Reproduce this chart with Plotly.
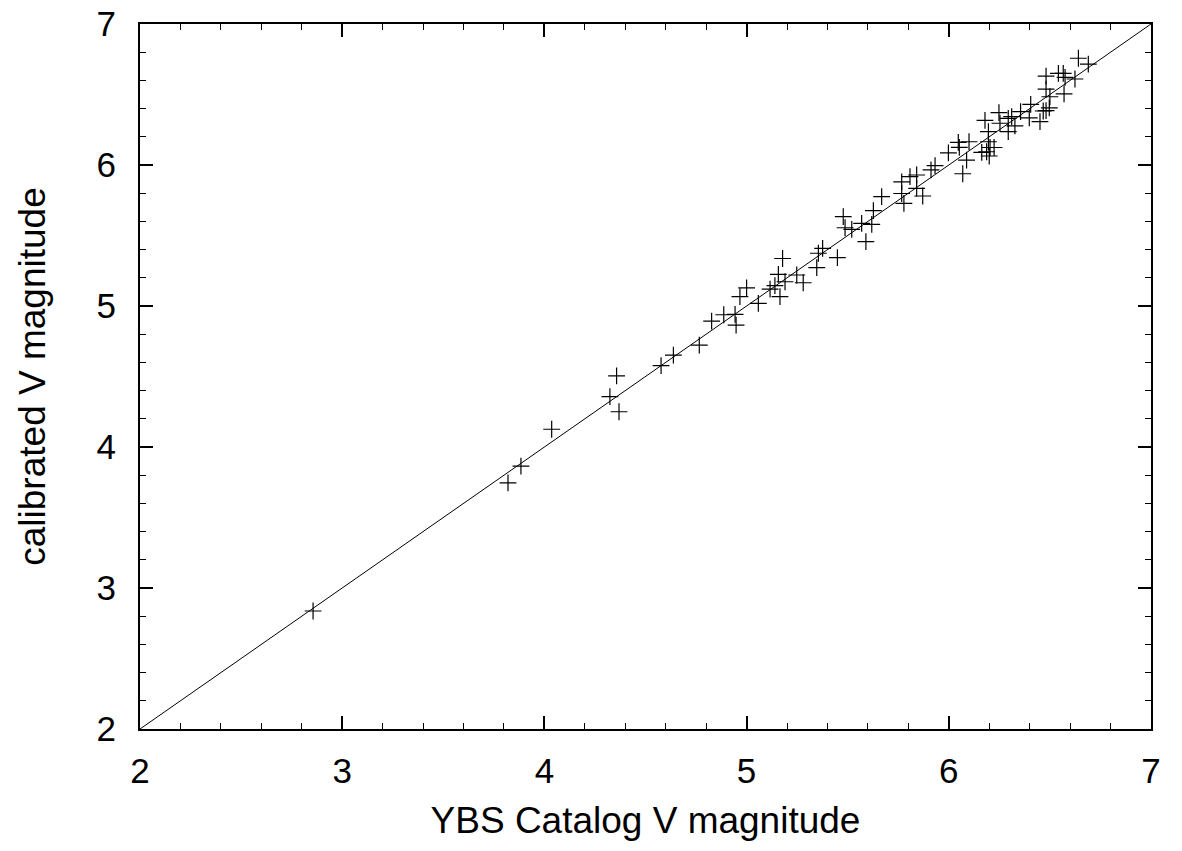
import plotly.graph_objects as go

# Measured points (YBS catalog V vs calibrated V)
ybs_v = [2.856, 3.820, 3.884, 4.036, 4.324, 4.357, 4.369, 4.577, 4.638, 4.766,
         4.827, 4.887, 4.943, 4.948, 4.967, 5.000, 5.058, 5.116, 5.140, 5.157,
         5.165, 5.178, 5.190, 5.248, 5.280, 5.347, 5.355, 5.376, 5.449, 5.478,
         5.487, 5.520, 5.569, 5.590, 5.619, 5.627, 5.668, 5.767, 5.767, 5.778,
         5.808, 5.841, 5.841, 5.871, 5.912, 5.932, 5.998, 6.047, 6.052, 6.100,
         6.088, 6.069, 6.179, 6.196, 6.196, 6.163, 6.187, 6.204, 6.224, 6.200,
         6.248, 6.253, 6.294, 6.311, 6.327, 6.294, 6.355, 6.405, 6.398, 6.451,
         6.467, 6.481, 6.497, 6.500, 6.481, 6.481, 6.542, 6.566, 6.575, 6.624,
         6.570, 6.641, 6.690]
cal_v = [2.837, 3.745, 3.865, 4.126, 4.357, 4.504, 4.250, 4.577, 4.652, 4.723,
         4.893, 4.938, 4.940, 4.865, 5.066, 5.128, 5.019, 5.120, 5.144, 5.224,
         5.066, 5.337, 5.172, 5.220, 5.165, 5.272, 5.374, 5.409, 5.343, 5.634,
         5.555, 5.543, 5.586, 5.456, 5.579, 5.676, 5.775, 5.881, 5.798, 5.728,
         5.917, 5.929, 5.834, 5.780, 5.965, 5.995, 6.086, 6.160, 6.125, 6.165,
         6.035, 5.938, 6.316, 6.236, 6.165, 6.089, 6.094, 6.124, 6.124, 6.064,
         6.371, 6.296, 6.331, 6.343, 6.277, 6.236, 6.378, 6.430, 6.334, 6.308,
         6.383, 6.386, 6.405, 6.484, 6.538, 6.631, 6.650, 6.650, 6.621, 6.610,
         6.504, 6.757, 6.716]

# Reference line y = x
line_x = [2, 7]
line_y = [2, 7]

x_ticks = [2, 3, 4, 5, 6, 7]
y_ticks = [2, 3, 4, 5, 6, 7]

FONT = "Liberation Sans, Arial, Helvetica, sans-serif"

fig = go.Figure()
fig.add_trace(go.Scatter(x=line_x, y=line_y, mode="lines",
                         line=dict(color="black", width=1), showlegend=False,
                         hoverinfo="skip"))
fig.add_trace(go.Scatter(x=ybs_v, y=cal_v, mode="markers",
                         marker=dict(symbol="cross-thin", size=12,
                                     line=dict(color="black", width=1.2),
                                     color="black"),
                         showlegend=False))

axis_common = dict(
    showgrid=False, zeroline=False,
    showline=True, linecolor="black", linewidth=2, mirror="ticks",
    ticks="inside", ticklen=13, tickwidth=1.5, tickcolor="black",
    tickfont=dict(family=FONT, size=35, color="black"),
    minor=dict(ticks="inside", ticklen=6, tickwidth=1.2, tickcolor="black", dtick=0.2),
    ticklabeloverflow="allow",
    automargin=False,
)

fig.update_xaxes(range=[2, 7], tickvals=x_ticks, ticktext=[str(v) for v in x_ticks],
                 ticklabelstandoff=10,
                 title=dict(text="YBS Catalog V magnitude",
                            font=dict(family=FONT, size=37, color="black"),
                            standoff=18),
                 **axis_common)
fig.update_yaxes(range=[2, 7], tickvals=y_ticks, ticktext=[str(v) for v in y_ticks],
                 ticklabelstandoff=15,
                 title=dict(text="calibrated V magnitude",
                            font=dict(family=FONT, size=37, color="black"),
                            standoff=40),
                 **axis_common)

fig.update_layout(
    width=1182, height=851,
    margin=dict(l=132, r=39, t=16, b=130),
    paper_bgcolor="white", plot_bgcolor="white",
    font=dict(family=FONT, color="black"),
)

fig.write_html("out.html")
